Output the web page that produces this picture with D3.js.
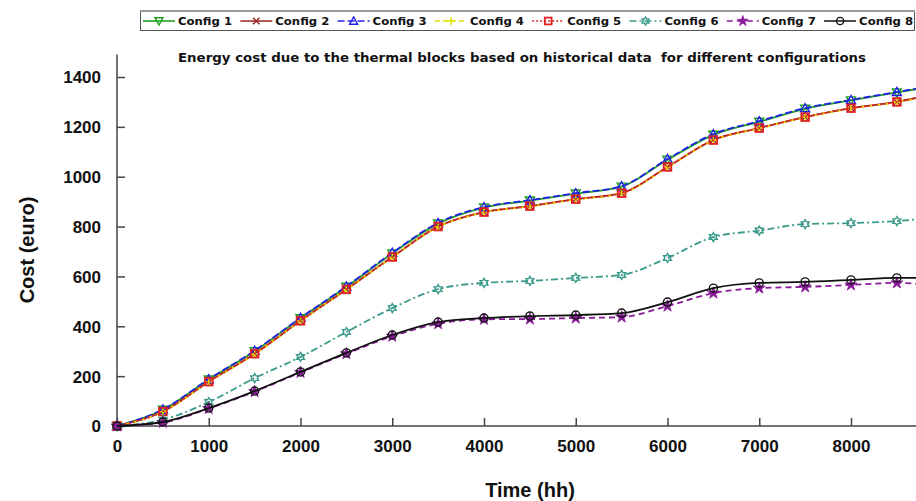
<!DOCTYPE html>
<html><head><meta charset="utf-8">
<script src="https://cdn.jsdelivr.net/npm/d3@7"></script>
<style>html,body{margin:0;padding:0;background:#fff;overflow:hidden}</style>
</head><body>
<svg id="chart" width="916" height="501"></svg>
<script>
const hours = [0,500,1000,1500,2000,2500,3000,3500,4000,4500,5000,5500,6000,6500,7000,7500,8000,8500,8760];
const config1 = [0,65,186,300,432,558,692,812,876,904,932,960,1068,1168,1220,1272,1306,1338,1354];
const config2 = [0,58,178,290,422,548,678,800,858,882,910,934,1039,1147,1195,1239,1275,1300,1320];
const config3 = [0,66,188,302,434,560,695,815,878,906,934,962,1071,1171,1223,1275,1308,1340,1356];
const config4 = [0,57,177,289,421,547,677,799,857,881,909,933,1038,1146,1194,1238,1274,1299,1319];
const config5 = [0,58,178,290,422,548,678,800,858,882,910,934,1039,1147,1195,1239,1275,1300,1320];
const config6 = [0,25,96,192,277,377,473,549,574,582,594,606,674,758,784,810,814,822,830];
const config7 = [0,14,70,138,215,290,360,410,428,429,433,437,481,533,553,558,566,574,570];
const config8 = [0,16,72,140,217,293,365,417,433,441,445,453,497,553,574,578,586,594,594];
const seriesNames = ["Config 1","Config 2","Config 3","Config 4","Config 5","Config 6","Config 7","Config 8"];
const xTicks = [0,1000,2000,3000,4000,5000,6000,7000,8000];
const yTicks = [0,200,400,600,800,1000,1200,1400];
const titleText = "Energy cost due to the thermal blocks based on historical data  for different configurations";

const seriesValues = [config1,config2,config3,config4,config5,config6,config7,config8];
const styles = [
  {color:"#1e9e1e", dash:null, marker:"tridown"},
  {color:"#9a2323", dash:null, marker:"x"},
  {color:"#2222e6", dash:"7,3", marker:"triup"},
  {color:"#dede00", dash:"5,3", marker:"plus"},
  {color:"#e02020", dash:"2,2", marker:"square"},
  {color:"#3a9a8a", dash:"7,3,2,3", marker:"hexagram"},
  {color:"#8a1a9a", dash:"6,4", marker:"star"},
  {color:"#111111", dash:null, marker:"circle"}
];

const svg = d3.select("#chart");
const x = d3.scaleLinear().domain([0,8760]).range([117, 117+8.76*91.75]);
const y = d3.scaleLinear().domain([0,1400]).range([426, 77]);

// axes
const axisColor = "#444";
const gx = svg.append("g").attr("transform","translate(0,"+y(0)+")")
  .call(d3.axisBottom(x).tickValues(xTicks).tickSize(-8).tickPadding(14).tickFormat(d3.format("d")));
const gy = svg.append("g").attr("transform","translate("+x(0)+",0)")
  .call(d3.axisLeft(y).tickValues(yTicks).tickSize(-8).tickPadding(16).tickFormat(d3.format("d")));
[gx,gy].forEach(g=>{
  g.select(".domain").remove();
  g.selectAll(".tick line").attr("stroke",axisColor).attr("stroke-width",1.5);
  g.selectAll(".tick text").attr("fill","#111").style("font-family","Liberation Sans, Arial, sans-serif")
    .style("font-size","17px").style("font-weight","bold");
});
gy.selectAll(".tick text").attr("dy","0.35em");
svg.append("line").attr("x1",x(0)).attr("x2",916).attr("y1",y(0)).attr("y2",y(0)).attr("stroke",axisColor).attr("stroke-width",1.5);
svg.append("line").attr("x1",x(0)).attr("x2",x(0)).attr("y1",y(0)).attr("y2",y(1490)).attr("stroke",axisColor).attr("stroke-width",1.5);

// axis titles
svg.append("text").attr("x",530).attr("y",497).attr("text-anchor","middle")
  .style("font-family","Liberation Sans, Arial, sans-serif").style("font-size","20px").style("font-weight","bold")
  .attr("fill","#111").text("Time (hh)");
svg.append("text").attr("transform","translate(34,250) rotate(-90)").attr("text-anchor","middle")
  .style("font-family","Liberation Sans, Arial, sans-serif").style("font-size","20px").style("font-weight","bold")
  .attr("fill","#111").text("Cost (euro)");

// title
svg.append("text").attr("x",522).attr("y",62).attr("text-anchor","middle")
  .style("font-family","DejaVu Sans, sans-serif").style("font-size","11.5px").style("font-weight","bold")
  .style("white-space","pre").attr("xml:space","preserve")
  .attr("textLength",688).attr("lengthAdjust","spacingAndGlyphs")
  .attr("fill","#111").text(titleText);

function drawMarker(g, type, cx, cy, color, s) {
  s = s || 4.5;
  const sw = 1.4;
  if (type==="tridown") {
    g.append("path").attr("d",`M${cx-s},${cy-s*0.8}L${cx+s},${cy-s*0.8}L${cx},${cy+s}Z`).attr("fill","none").attr("stroke",color).attr("stroke-width",sw);
  } else if (type==="triup") {
    g.append("path").attr("d",`M${cx-s},${cy+s*0.8}L${cx+s},${cy+s*0.8}L${cx},${cy-s}Z`).attr("fill","none").attr("stroke",color).attr("stroke-width",sw);
  } else if (type==="x") {
    g.append("path").attr("d",`M${cx-s*0.8},${cy-s*0.8}L${cx+s*0.8},${cy+s*0.8}M${cx-s*0.8},${cy+s*0.8}L${cx+s*0.8},${cy-s*0.8}`).attr("stroke",color).attr("stroke-width",sw);
  } else if (type==="plus") {
    g.append("path").attr("d",`M${cx-s},${cy}L${cx+s},${cy}M${cx},${cy-s}L${cx},${cy+s}`).attr("stroke",color).attr("stroke-width",sw);
  } else if (type==="square") {
    g.append("rect").attr("x",cx-s*0.85).attr("y",cy-s*0.85).attr("width",s*1.7).attr("height",s*1.7).attr("fill","none").attr("stroke",color).attr("stroke-width",sw+0.4);
  } else if (type==="hexagram") {
    const pts=[];
    for(let i=0;i<12;i++){const a=Math.PI/6*i - Math.PI/2; const r = i%2===0 ? s : s*0.58; pts.push([cx+r*Math.cos(a), cy+r*Math.sin(a)]);}
    g.append("path").attr("d","M"+pts.map(p=>p.join(",")).join("L")+"Z").attr("fill","none").attr("stroke",color).attr("stroke-width",sw);
  } else if (type==="star") {
    g.append("path").attr("d",d3.symbol(d3.symbolStar, s*s*2.2)()).attr("transform",`translate(${cx},${cy})`).attr("fill",color).attr("stroke",color).attr("stroke-width",0.8);
  } else if (type==="circle") {
    g.append("circle").attr("cx",cx).attr("cy",cy).attr("r",s*0.9).attr("fill","none").attr("stroke",color).attr("stroke-width",sw);
  }
}

// series
const line = d3.line().x((d,i)=>x(hours[i])).y(d=>y(d)).curve(d3.curveMonotoneX);
const plot = svg.append("g");
seriesValues.forEach((vals,k)=>{
  const st = styles[k];
  const g = plot.append("g");
  g.append("path").attr("d",line(vals)).attr("fill","none").attr("stroke",st.color)
    .attr("stroke-width",1.8).attr("stroke-dasharray",st.dash);
  vals.forEach((v,i)=>{ if (hours[i]%500===0) drawMarker(g, st.marker, x(hours[i]), y(v), st.color); });
});

// legend
const lg = svg.append("g");
lg.append("rect").attr("x",140.5).attr("y",11.5).attr("width",774).attr("height",19).attr("fill","#fff").attr("stroke","#555").attr("stroke-width",1);
lg.append("line").attr("x1",140).attr("x2",915).attr("y1",11).attr("y2",11).attr("stroke","#999").attr("stroke-width",2);
seriesNames.forEach((name,k)=>{
  const st = styles[k];
  const x0 = 143 + k*97.3;
  lg.append("line").attr("x1",x0).attr("x2",x0+32).attr("y1",21).attr("y2",21).attr("stroke",st.color).attr("stroke-width",1.6).attr("stroke-dasharray",st.dash);
  drawMarker(lg, st.marker, x0+16, 21, st.color, 4);
  lg.append("text").attr("x",x0+35).attr("y",25).style("font-family","DejaVu Sans, sans-serif").style("font-size","10.5px").style("font-weight","bold")
    .attr("fill","#111").attr("textLength",54).attr("lengthAdjust","spacingAndGlyphs").text(name);
});
</script>
</body></html>
